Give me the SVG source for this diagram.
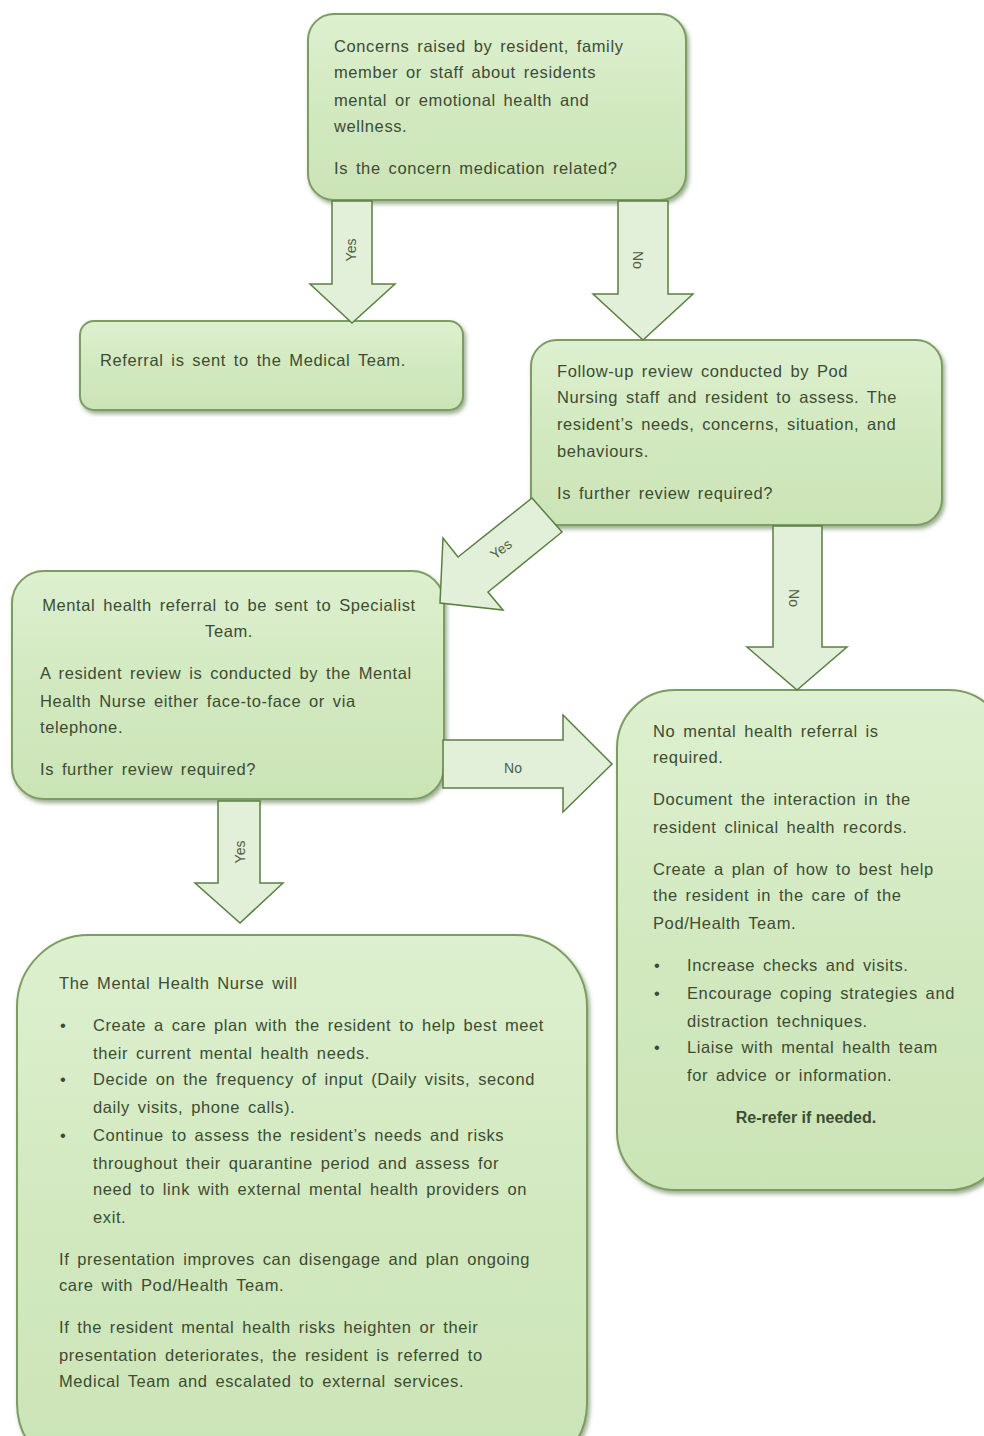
<svg xmlns="http://www.w3.org/2000/svg" width="984" height="1436" viewBox="0 0 984 1436">
<defs>
<linearGradient id="g" x1="0" y1="0" x2="0" y2="1">
<stop offset="0" stop-color="#ddf0cf"/>
<stop offset="0.5" stop-color="#d2e9c0"/>
<stop offset="1" stop-color="#cbe4b6"/>
</linearGradient>
<filter id="sh" x="-5%" y="-5%" width="112%" height="112%">
<feDropShadow dx="2" dy="3" stdDeviation="2" flood-color="#4a6a34" flood-opacity="0.55"/>
</filter>
<style>
.box{fill:url(#g);stroke:#7c9c62;stroke-width:2;filter:url(#sh)}
.arr{fill:#e2efd9;stroke:#5b7f41;stroke-width:1.5;stroke-linejoin:miter}
text{font-family:"Liberation Sans",Arial,sans-serif;font-size:16.5px;letter-spacing:0.6px;word-spacing:2.7px;fill:#3d4b33}
.lbl{font-size:14px;letter-spacing:0;word-spacing:0;fill:#4f6140}
.b{font-weight:bold;letter-spacing:0;word-spacing:0;font-size:16px}
.c{text-anchor:middle}
</style>
</defs>
<rect width="984" height="1436" fill="#ffffff"/>
<g id="n1">
<rect class="box" x="308" y="14" width="378" height="186" rx="26"/>
<text x="334" y="52">Concerns raised by resident, family</text>
<text x="334" y="78">member or staff about residents</text>
<text x="334" y="106">mental or emotional health and</text>
<text x="334" y="132">wellness.</text>
<text x="334" y="174">Is the concern medication related?</text>
</g>
<g id="n2">
<rect class="box" x="80" y="321" width="383" height="89" rx="14"/>
<text x="100" y="366">Referral is sent to the Medical Team.</text>
</g>
<g id="n3">
<rect class="box" x="531" y="340" width="411" height="185" rx="26"/>
<text x="557" y="377">Follow-up review conducted by Pod</text>
<text x="557" y="403">Nursing staff and resident to assess. The</text>
<text x="557" y="430">resident’s needs, concerns, situation, and</text>
<text x="557" y="457">behaviours.</text>
<text x="557" y="499">Is further review required?</text>
</g>
<g id="n4">
<rect class="box" x="12" y="571" width="432" height="228" rx="32"/>
<text class="c" x="229" y="611">Mental health referral to be sent to Specialist</text>
<text class="c" x="229" y="637">Team.</text>
<text x="40" y="679">A resident review is conducted by the Mental</text>
<text x="40" y="707">Health Nurse either face-to-face or via</text>
<text x="40" y="733">telephone.</text>
<text x="40" y="775">Is further review required?</text>
</g>
<g id="n5">
<rect class="box" x="617" y="690" width="390" height="500" rx="58"/>
<text x="653" y="737">No mental health referral is</text>
<text x="653" y="763">required.</text>
<text x="653" y="805">Document the interaction in the</text>
<text x="653" y="833">resident clinical health records.</text>
<text x="653" y="875">Create a plan of how to best help</text>
<text x="653" y="901">the resident in the care of the</text>
<text x="653" y="929">Pod/Health Team.</text>
<text x="654" y="971">•</text>
<text x="687" y="971">Increase checks and visits.</text>
<text x="654" y="999">•</text>
<text x="687" y="999">Encourage coping strategies and</text>
<text x="687" y="1027">distraction techniques.</text>
<text x="654" y="1053">•</text>
<text x="687" y="1053">Liaise with mental health team</text>
<text x="687" y="1081">for advice or information.</text>
<text class="b c" x="806" y="1123">Re-refer if needed.</text>
</g>
<g id="n6">
<rect class="box" x="17" y="935" width="570" height="540" rx="72"/>
<text x="59" y="989">The Mental Health Nurse will</text>
<text x="60" y="1031">•</text>
<text x="93" y="1031">Create a care plan with the resident to help best meet</text>
<text x="93" y="1059">their current mental health needs.</text>
<text x="60" y="1085">•</text>
<text x="93" y="1085">Decide on the frequency of input (Daily visits, second</text>
<text x="93" y="1113">daily visits, phone calls).</text>
<text x="60" y="1141">•</text>
<text x="93" y="1141">Continue to assess the resident’s needs and risks</text>
<text x="93" y="1169">throughout their quarantine period and assess for</text>
<text x="93" y="1195">need to link with external mental health providers on</text>
<text x="93" y="1223">exit.</text>
<text x="59" y="1265">If presentation improves can disengage and plan ongoing</text>
<text x="59" y="1291">care with Pod/Health Team.</text>
<text x="59" y="1333">If the resident mental health risks heighten or their</text>
<text x="59" y="1361">presentation deteriorates, the resident is referred to</text>
<text x="59" y="1387">Medical Team and escalated to external services.</text>
</g>
<g id="connectors">
<polygon class="arr" points="332,201 372,201 372,284 395,284 352,323 310,284 332,284"/>
<text class="lbl c" transform="translate(356,250) rotate(-90)">Yes</text>
<polygon class="arr" points="618,201 668,201 668,294 693,294 643,340 593,294 618,294"/>
<text class="lbl c" transform="translate(633,260) rotate(90)">No</text>
<polygon class="arr" points="532,498 562,532 488,592 503,610 440,603 443,538 458,557"/>
<text class="lbl c" transform="translate(504,553) rotate(-38)">Yes</text>
<polygon class="arr" points="773,526 822,526 822,647 847,647 797,690 747,647 773,647"/>
<text class="lbl c" transform="translate(789,598) rotate(90)">No</text>
<polygon class="arr" points="443,740 563,740 563,715 612,764 563,812 563,788 443,788"/>
<text class="lbl c" x="513" y="773">No</text>
<polygon class="arr" points="218,801 260,801 260,883 283,883 240,923 195,883 218,883"/>
<text class="lbl c" transform="translate(245,852) rotate(-90)">Yes</text>
</g>
</svg>
